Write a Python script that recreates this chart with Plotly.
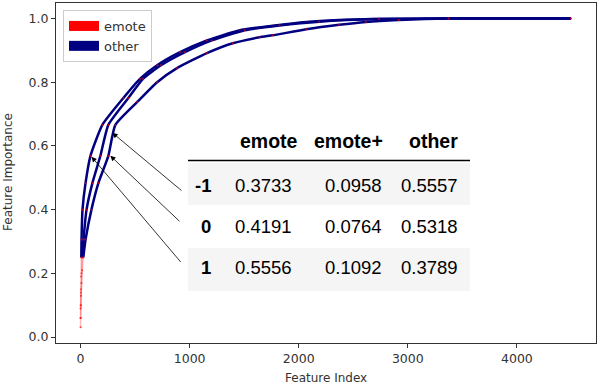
import plotly.graph_objects as go

# cumulative feature importance curves
curve_a_x = [0, 1, 2, 3, 5, 7, 9, 18, 46, 91, 200, 392, 547, 702, 912, 1158, 1459, 1759, 2069, 2370, 2671, 3282, 4494]
curve_a_y = [0.031, 0.06, 0.10, 0.14, 0.19, 0.25, 0.306, 0.40, 0.484, 0.569, 0.666, 0.75, 0.811, 0.853, 0.894, 0.931, 0.963, 0.977, 0.989, 0.995, 0.998, 1.0, 1.0]

curve_b_x = [0, 2, 5, 9, 15, 27, 55, 109, 182, 255, 438, 574, 738, 957, 1203, 1504, 1823, 2188, 2735, 3373, 4494]
curve_b_y = [0.06, 0.10, 0.15, 0.20, 0.25, 0.306, 0.40, 0.484, 0.569, 0.666, 0.75, 0.811, 0.853, 0.894, 0.931, 0.963, 0.978, 0.99, 0.998, 1.0, 1.0]

curve_c_x = [0, 3, 8, 15, 25, 46, 100, 164, 255, 319, 520, 702, 884, 1158, 1395, 1641, 1759, 2069, 2370, 2616, 2917, 3373, 4494]
curve_c_y = [0.09, 0.13, 0.17, 0.21, 0.25, 0.306, 0.40, 0.484, 0.569, 0.666, 0.738, 0.80, 0.844, 0.891, 0.922, 0.941, 0.947, 0.966, 0.98, 0.989, 0.995, 1.0, 1.0]

# table contents
table_cols = ["emote", "emote+", "other"]
table_rows = ["-1", "0", "1"]
table_vals = [["0.3733", "0.0958", "0.5557"],
              ["0.4191", "0.0764", "0.5318"],
              ["0.5556", "0.1092", "0.3789"]]

# arrows: head on the curve, tail at the table row (data coords)
arrow_heads = [(292, 0.641), (273, 0.569), (101, 0.566)]
arrow_tails = [(939, 0.456), (921, 0.359), (930, 0.231)]

RED = "#ff0000"
NAVY = "#000080"
FONT = "DejaVu Sans"

fig = go.Figure()

for cx, cy in [(curve_a_x, curve_a_y), (curve_b_x, curve_b_y), (curve_c_x, curve_c_y)]:
    # low part of the curve is mostly red points
    low = [i for i, v in enumerate(cy) if v <= 0.26]
    fig.add_trace(go.Scatter(x=cx[:low[-1] + 2], y=cy[:low[-1] + 2], mode="lines",
                             line=dict(color="rgba(255,60,60,0.35)", width=1.5),
                             showlegend=False, hoverinfo="skip"))
    start = low[-1]
    fig.add_trace(go.Scatter(x=cx[start:], y=cy[start:], mode="lines",
                             line=dict(color=NAVY, width=2.5, shape="spline", smoothing=0.5),
                             showlegend=False))
    fig.add_trace(go.Scatter(x=cx, y=cy, mode="markers",
                             marker=dict(color=RED, size=2, opacity=0.7),
                             showlegend=False))

# legend patches
fig.add_trace(go.Scatter(x=[None], y=[None], mode="lines", name="emote",
                         line=dict(color=RED, width=10)))
fig.add_trace(go.Scatter(x=[None], y=[None], mode="lines", name="other",
                         line=dict(color=NAVY, width=10)))

# table: paper coords derived from pixel layout
def px(x):
    return (x - 56) / 540

def py(y):
    return (343 - y) / 340

shapes = []
for top, bot in [(163, 205), (248, 291)]:
    shapes.append(dict(type="rect", xref="paper", yref="paper",
                       x0=px(188), x1=px(470), y0=py(bot), y1=py(top),
                       fillcolor="#f5f5f5", line=dict(width=0), layer="above"))
shapes.append(dict(type="line", xref="paper", yref="paper",
                   x0=px(188), x1=px(470), y0=py(160.5), y1=py(160.5),
                   line=dict(color="black", width=1.5), layer="above"))

annots = []
head_right = [298, 383, 458]
val_right = [292, 382, 458]
row_y = [185, 226, 267]
hfont = dict(family="Liberation Sans, Arial", size=19.5, color="black")
tfont = dict(family="Liberation Sans, Arial", size=18.5, color="black")
for j, c in enumerate(table_cols):
    annots.append(dict(x=px(head_right[j]), y=py(141), xref="paper", yref="paper",
                       text="<b>%s</b>" % c, showarrow=False, xanchor="right",
                       yanchor="middle", font=hfont, xshift=2))
for i, r in enumerate(table_rows):
    annots.append(dict(x=px(211), y=py(row_y[i]), xref="paper", yref="paper",
                       text="<b>%s</b>" % r, showarrow=False, xanchor="right",
                       yanchor="middle", font=tfont, xshift=2))
    for j, v in enumerate(table_vals[i]):
        annots.append(dict(x=px(val_right[j]), y=py(row_y[i]), xref="paper", yref="paper",
                           text=v, showarrow=False, xanchor="right",
                           yanchor="middle", font=tfont, xshift=2))

for (hx, hy), (tx, ty) in zip(arrow_heads, arrow_tails):
    annots.append(dict(x=hx, y=hy, ax=tx, ay=ty, xref="x", yref="y", axref="x", ayref="y",
                       text="", showarrow=True, arrowhead=2, arrowsize=1.3,
                       arrowwidth=0.8, arrowcolor="black"))

# axis titles placed like the matplotlib original
annots.append(dict(x=px(326), y=py(378), xref="paper", yref="paper", text="Feature Index",
                   showarrow=False, xanchor="center", yanchor="middle",
                   font=dict(family=FONT, size=12, color="#333333")))
annots.append(dict(x=px(8), y=py(172), xref="paper", yref="paper", text="Feature Importance",
                   showarrow=False, xanchor="center", yanchor="middle", textangle=-90,
                   font=dict(family=FONT, size=12, color="#333333")))

fig.update_layout(
    width=598, height=384,
    margin=dict(l=56, r=2, t=3, b=41),
    paper_bgcolor="white", plot_bgcolor="white",
    font=dict(family=FONT, size=12, color="#333333"),
    shapes=shapes, annotations=annots,
    legend=dict(x=px(63), y=py(10), xanchor="left", yanchor="top",
                bgcolor="white", bordercolor="#cccccc", borderwidth=1,
                font=dict(family=FONT, size=13, color="#333333"),
                tracegroupgap=0),
)
fig.update_xaxes(range=[-225, 4725], tickvals=[0, 1000, 2000, 3000, 4000],
                 showgrid=False, zeroline=False, showline=True, mirror=True,
                 linecolor="#333333", linewidth=1, ticks="outside", ticklen=4,
                 tickcolor="#333333", automargin=False,
                 tickfont=dict(size=12.5))
fig.update_yaxes(range=[-0.0185, 1.0485], tickvals=[0, 0.2, 0.4, 0.6, 0.8, 1.0],
                 tickformat=".1f", automargin=False,
                 showgrid=False, zeroline=False, showline=True, mirror=True,
                 linecolor="#333333", linewidth=1, ticks="outside", ticklen=4,
                 tickcolor="#333333", tickfont=dict(size=12.5))

# the page body has a default margin; drop it so the figure fills the window
fig.write_html("out.html", post_script="document.body.style.margin='0px';",
               config={"displayModeBar": False})
